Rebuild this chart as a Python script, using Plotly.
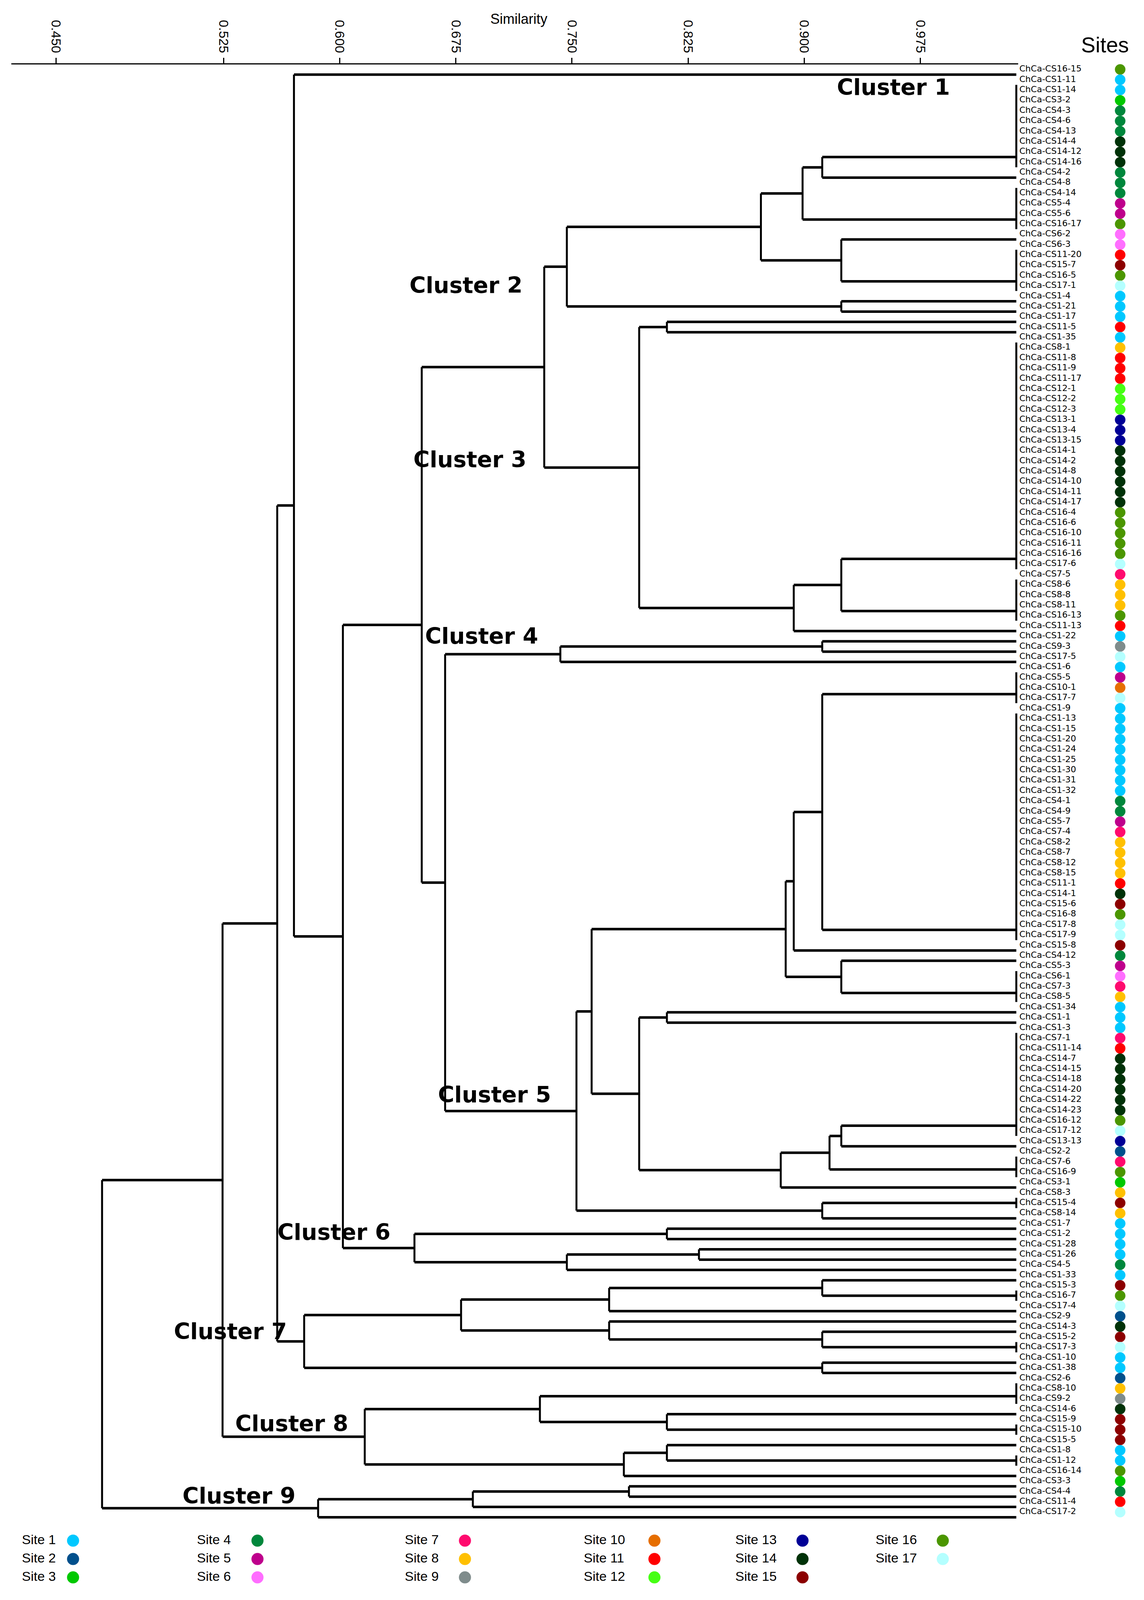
import plotly.graph_objects as go
import re

# ---------------- data ----------------
LEAF_LABELS = [
    "ChCa-CS16-15", "ChCa-CS1-11", "ChCa-CS1-14", "ChCa-CS3-2", "ChCa-CS4-3", "ChCa-CS4-6",
    "ChCa-CS4-13", "ChCa-CS14-4", "ChCa-CS14-12", "ChCa-CS14-16", "ChCa-CS4-2", "ChCa-CS4-8",
    "ChCa-CS4-14", "ChCa-CS5-4", "ChCa-CS5-6", "ChCa-CS16-17", "ChCa-CS6-2", "ChCa-CS6-3",
    "ChCa-CS11-20", "ChCa-CS15-7", "ChCa-CS16-5", "ChCa-CS17-1", "ChCa-CS1-4", "ChCa-CS1-21",
    "ChCa-CS1-17", "ChCa-CS11-5", "ChCa-CS1-35", "ChCa-CS8-1", "ChCa-CS11-8", "ChCa-CS11-9",
    "ChCa-CS11-17", "ChCa-CS12-1", "ChCa-CS12-2", "ChCa-CS12-3", "ChCa-CS13-1", "ChCa-CS13-4",
    "ChCa-CS13-15", "ChCa-CS14-1", "ChCa-CS14-2", "ChCa-CS14-8", "ChCa-CS14-10", "ChCa-CS14-11",
    "ChCa-CS14-17", "ChCa-CS16-4", "ChCa-CS16-6", "ChCa-CS16-10", "ChCa-CS16-11", "ChCa-CS16-16",
    "ChCa-CS17-6", "ChCa-CS7-5", "ChCa-CS8-6", "ChCa-CS8-8", "ChCa-CS8-11", "ChCa-CS16-13",
    "ChCa-CS11-13", "ChCa-CS1-22", "ChCa-CS9-3", "ChCa-CS17-5", "ChCa-CS1-6", "ChCa-CS5-5",
    "ChCa-CS10-1", "ChCa-CS17-7", "ChCa-CS1-9", "ChCa-CS1-13", "ChCa-CS1-15", "ChCa-CS1-20",
    "ChCa-CS1-24", "ChCa-CS1-25", "ChCa-CS1-30", "ChCa-CS1-31", "ChCa-CS1-32", "ChCa-CS4-1",
    "ChCa-CS4-9", "ChCa-CS5-7", "ChCa-CS7-4", "ChCa-CS8-2", "ChCa-CS8-7", "ChCa-CS8-12",
    "ChCa-CS8-15", "ChCa-CS11-1", "ChCa-CS14-1", "ChCa-CS15-6", "ChCa-CS16-8", "ChCa-CS17-8",
    "ChCa-CS17-9", "ChCa-CS15-8", "ChCa-CS4-12", "ChCa-CS5-3", "ChCa-CS6-1", "ChCa-CS7-3",
    "ChCa-CS8-5", "ChCa-CS1-34", "ChCa-CS1-1", "ChCa-CS1-3", "ChCa-CS7-1", "ChCa-CS11-14",
    "ChCa-CS14-7", "ChCa-CS14-15", "ChCa-CS14-18", "ChCa-CS14-20", "ChCa-CS14-22", "ChCa-CS14-23",
    "ChCa-CS16-12", "ChCa-CS17-12", "ChCa-CS13-13", "ChCa-CS2-2", "ChCa-CS7-6", "ChCa-CS16-9",
    "ChCa-CS3-1", "ChCa-CS8-3", "ChCa-CS15-4", "ChCa-CS8-14", "ChCa-CS1-7", "ChCa-CS1-2",
    "ChCa-CS1-28", "ChCa-CS1-26", "ChCa-CS4-5", "ChCa-CS1-33", "ChCa-CS15-3", "ChCa-CS16-7",
    "ChCa-CS17-4", "ChCa-CS2-9", "ChCa-CS14-3", "ChCa-CS15-2", "ChCa-CS17-3", "ChCa-CS1-10",
    "ChCa-CS1-38", "ChCa-CS2-6", "ChCa-CS8-10", "ChCa-CS9-2", "ChCa-CS14-6", "ChCa-CS15-9",
    "ChCa-CS15-10", "ChCa-CS15-5", "ChCa-CS1-8", "ChCa-CS1-12", "ChCa-CS16-14", "ChCa-CS3-3",
    "ChCa-CS4-4", "ChCa-CS11-4", "ChCa-CS17-2",
]

# runs of identical isolates (first leaf no., last leaf no.), joined at the tip level
IDENTICAL_GROUPS = {
    "G1": (2, 10), "G2": (12, 16), "G3": (18, 22), "G4": (27, 49), "G5": (50, 54),
    "G6": (59, 62), "G7": (63, 85), "G8": (88, 91), "G9": (94, 104), "G10": (106, 108),
    "G11": (110, 111), "G12": (119, 120), "G13": (124, 125), "G14": (128, 130),
    "G15": (132, 133), "G16": (135, 136),
}

# merges: (node, child a, child b, similarity); ints are leaf numbers
MERGES = [
    ("K", "G1", 11, 0.9116), ("I", "K", "G2", 0.8989), ("J", 17, "G3", 0.9239),
    ("G", "I", "J", 0.8720), ("H", 23, 24, 0.9239), ("C2", "G", "H", 0.7467),
    ("L", 25, 26, 0.8113), ("N", "G4", "G5", 0.9239), ("M", "N", 55, 0.8932),
    ("C3", "L", "M", 0.7934), ("E", "C2", "C3", 0.7321),
    ("Q", 56, 57, 0.9116), ("C4", "Q", 58, 0.7425),
    ("X", "G6", "G7", 0.9116), ("V", "X", 86, 0.8932), ("W", 87, "G8", 0.9239),
    ("T", "V", "W", 0.8880), ("Y", 92, 93, 0.8113), ("AB", "G9", 105, 0.9239),
    ("AA", "AB", "G10", 0.9163), ("Z", "AA", 109, 0.8848), ("U", "Y", "Z", 0.7934),
    ("R", "T", "U", 0.7627), ("S", "G11", 112, 0.9116), ("C5", "R", "S", 0.7529),
    ("F", "C4", "C5", 0.6681), ("D", "E", "F", 0.6530),
    ("AC", 113, 114, 0.8113), ("AE", 115, 116, 0.8320), ("AD", "AE", 117, 0.7467),
    ("C6", "AC", "AD", 0.6483), ("CC", "D", "C6", 0.6021), ("B", 1, "CC", 0.5705),
    ("AJ", 118, "G12", 0.9116), ("AH", "AJ", 121, 0.7740), ("AK", 123, "G13", 0.9116),
    ("AI", 122, "AK", 0.7740), ("AF", "AH", "AI", 0.6784), ("AG", 126, 127, 0.9116),
    ("C7", "AF", "AG", 0.5771), ("A", "B", "C7", 0.5597),
    ("AN", 131, "G15", 0.8113), ("AL", "G14", "AN", 0.7293), ("AO", 134, "G16", 0.8113),
    ("AM", "AO", 137, 0.7835), ("C8", "AL", "AM", 0.6162), ("BIG", "A", "C8", 0.5244),
    ("AQ", 138, 139, 0.7868), ("AP", "AQ", 140, 0.6860), ("C9", "AP", 141, 0.5861),
    ("ROOT", "BIG", "C9", 0.4466),
]
LEAF_SIM = 1.0369  # where the tips are drawn on the similarity scale of the reference

TICK_TEXT = ["0.450", "0.525", "0.600", "0.675", "0.750", "0.825", "0.900", "0.975"]
# the reference prints "0.450" off the linear scale of the other ticks
TICK_POS = [0.4168, 0.525, 0.600, 0.675, 0.750, 0.825, 0.900, 0.975]

CLUSTER_NAMES = ["Cluster 1", "Cluster 2", "Cluster 3", "Cluster 4", "Cluster 5",
                 "Cluster 6", "Cluster 7", "Cluster 8", "Cluster 9"]
SITE_NAMES = ["Site %d" % i for i in range(1, 18)]
SITE_COLORS = ["#00C8FF", "#00508C", "#00C800", "#00873C", "#BE008C", "#FF6EFF",
               "#FF0A6E", "#FFC000", "#7F8C8C", "#E66E00", "#FF0000", "#46FF14",
               "#000096", "#003208", "#8C0000", "#4B9600", "#B4FFFF"]

# ---------------- layout (pixels of the 2928x5651 reference page) ----------------
PAGE_W, PAGE_H = 2928, 5651
OFF = 8                      # default body margin of the html page
W, H = PAGE_W - OFF, PAGE_H - OFF
PX_0525, PX_PER_UNIT = 572.0, 3964.0
X_LEFT_PX, X_RIGHT_PX = 29.0, 2606.0
ROW1_PX, ROW_PX = 261.0, 36.486
Y_TOP_PX, Y_BOT_PX = 225.0, 5420.0


def px_to_sim(px):
    return 0.525 + (px - PX_0525) / PX_PER_UNIT


def px_to_row(py):
    return 1 + (py - ROW1_PX) / ROW_PX


def fx(px):
    return (px - OFF) / W


def fy(py):
    return 1 - (py - OFF) / H


CLUSTER_POS_PX = [(2286, 306), (1192, 1007), (1202, 1624), (1232, 2249), (1265, 3872),
                  (854, 4359), (589, 4710), (746, 5037), (611, 5293)]
LEG_TEXT_X = [56, 504, 1036, 1494, 1882, 2241]
LEG_DOT_X = [187, 659, 1190, 1675, 2054, 2413]
LEG_ROW_Y = [5452, 5517, 5582]

# ---------------- build the tree geometry ----------------
pos = {}
hx, hy, vx, vy = [], [], [], []
for g, (a, b) in IDENTICAL_GROUPS.items():
    y = float(a)
    for n in range(a + 1, b + 1):
        y = (y + n) / 2.0
    pos[g] = (LEAF_SIM, y)
    vx += [LEAF_SIM, LEAF_SIM, None]
    vy += [a, b, None]


def get(ref):
    if isinstance(ref, int):
        return (LEAF_SIM, float(ref))
    return pos[ref]


for name, a, b, s in MERGES:
    xa, ya = get(a)
    xb, yb = get(b)
    vx += [s, s, None]
    vy += [ya, yb, None]
    hx += [s, xa, None, s, xb, None]
    hy += [ya, ya, None, yb, yb, None]
    pos[name] = (s, (ya + yb) / 2.0)

fig = go.Figure()
fig.add_trace(go.Scatter(x=hx, y=hy, mode="lines", line=dict(color="black", width=6.5),
                         hoverinfo="skip", showlegend=False))
fig.add_trace(go.Scatter(x=vx, y=vy, mode="lines", line=dict(color="black", width=5),
                         hoverinfo="skip", showlegend=False))

# leaf labels and site dots
rows = list(range(1, len(LEAF_LABELS) + 1))
sites = [int(re.match(r"ChCa-CS(\d+)-", s).group(1)) for s in LEAF_LABELS]
label_rows = [r - 0.5 for r in rows]
fig.add_trace(go.Scatter(x=[2609] * len(rows), y=label_rows, xaxis="x2", yaxis="y",
                         mode="text", text=LEAF_LABELS, textposition="middle right",
                         textfont=dict(family="DejaVu Sans, Liberation Sans", size=22,
                                       color="black"),
                         hoverinfo="skip", showlegend=False, cliponaxis=False))
fig.add_trace(go.Scatter(x=[2867] * len(rows), y=label_rows, xaxis="x2", yaxis="y",
                         mode="markers",
                         marker=dict(size=27, color=[SITE_COLORS[s - 1] for s in sites],
                                     line=dict(width=0)),
                         hoverinfo="skip", showlegend=False, cliponaxis=False))

# legend of sites
lx_t, lx_d, ly = [], [], []
for i, nm in enumerate(SITE_NAMES):
    c, r = divmod(i, 3)
    lx_t.append(LEG_TEXT_X[c])
    lx_d.append(LEG_DOT_X[c])
    ly.append(LEG_ROW_Y[r])
fig.add_trace(go.Scatter(x=lx_t, y=ly, xaxis="x3", yaxis="y3", mode="text", text=SITE_NAMES,
                         textposition="middle right",
                         textfont=dict(family="Liberation Sans, Arial", size=34, color="black"),
                         hoverinfo="skip", showlegend=False, cliponaxis=False))
fig.add_trace(go.Scatter(x=lx_d, y=ly, xaxis="x3", yaxis="y3", mode="markers",
                         marker=dict(size=31, color=SITE_COLORS, line=dict(width=0)),
                         hoverinfo="skip", showlegend=False, cliponaxis=False))

annotations = []
for nm, (px, py) in zip(CLUSTER_NAMES, CLUSTER_POS_PX):
    annotations.append(dict(x=fx(px), y=fy(py), xref="paper", yref="paper",
                            text="<b>%s</b>" % nm, showarrow=False, xanchor="center",
                            yanchor="middle",
                            font=dict(family="DejaVu Sans", size=57, color="black")))
annotations.append(dict(x=fx(1328), y=fy(64), xref="paper", yref="paper", text="Similarity",
                        showarrow=False, xanchor="center", yanchor="middle",
                        font=dict(family="Liberation Sans, Arial", size=36, color="black")))
annotations.append(dict(x=fx(2828), y=fy(156), xref="paper", yref="paper", text="Sites",
                        showarrow=False, xanchor="center", yanchor="middle",
                        font=dict(family="Liberation Sans, Arial", size=55, color="black")))

fig.update_layout(
    width=W, autosize=True, margin=dict(l=0, r=0, t=0, b=0, autoexpand=False),
    paper_bgcolor="white", plot_bgcolor="rgba(0,0,0,0)",
    showlegend=False, annotations=annotations,
    xaxis=dict(domain=[fx(X_LEFT_PX), fx(X_RIGHT_PX)],
               range=[px_to_sim(X_LEFT_PX), px_to_sim(X_RIGHT_PX)],
               side="top", anchor="y", showline=True, linecolor="black", linewidth=3,
               ticks="outside", ticklen=14, tickwidth=2.5, tickcolor="black",
               tickvals=TICK_POS, ticktext=TICK_TEXT, tickangle=90,
               tickfont=dict(family="Liberation Sans, Arial", size=34, color="black"),
               showgrid=False, zeroline=False, fixedrange=True),
    yaxis=dict(domain=[fy(Y_BOT_PX), fy(Y_TOP_PX)],
               range=[px_to_row(Y_BOT_PX), px_to_row(Y_TOP_PX)], anchor="x",
               visible=False, showgrid=False, zeroline=False, fixedrange=True),
    xaxis2=dict(domain=[fx(X_RIGHT_PX), 1], range=[X_RIGHT_PX, PAGE_W], anchor="y",
                visible=False, showgrid=False, zeroline=False, fixedrange=True),
    xaxis3=dict(domain=[0, 1], range=[OFF, PAGE_W], anchor="y3", visible=False,
                showgrid=False, zeroline=False, fixedrange=True),
    yaxis3=dict(domain=[0, 1], range=[PAGE_H, OFF], anchor="x3", visible=False,
                showgrid=False, zeroline=False, fixedrange=True),
)

fig.write_html("out.html")
